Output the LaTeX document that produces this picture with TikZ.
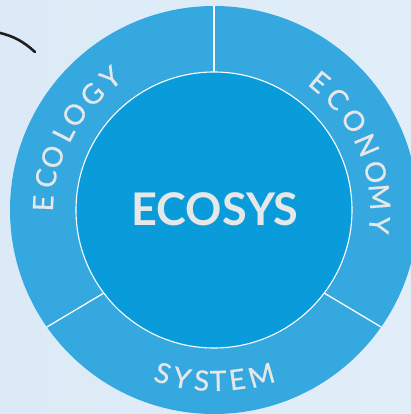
\documentclass[tikz,border=0pt]{standalone}
\usepackage{fontspec}
\setmainfont{Lato}
\newfontfamily\arcfam{Lato}[FakeBold=0.7]
\usepackage{xcolor}
\usepackage{tikz}

\definecolor{bgleft}{HTML}{DCEAF7}
\definecolor{bgmid}{HTML}{F0F6FC}
\definecolor{bgright}{HTML}{E1EEF9}
\definecolor{ringblue}{HTML}{35A8E0}
\definecolor{coreblue}{HTML}{0A9CDA}
\definecolor{txtgray}{HTML}{E6E7E8}

\newcommand{\arcfont}{\arcfam\fontsize{28}{28}\selectfont}
\newcommand{\titlefont}{\fontsize{45}{45}\selectfont\bfseries}

\begin{document}
\begin{tikzpicture}[x=1pt,y=1pt]
  \tikzstyle{ltr}=[text=txtgray,font=\arcfont,inner sep=0pt]
  \tikzstyle{sep}=[white,line width=1.3pt]

  % Frame and background
  \useasboundingbox (-214,-204) rectangle (197,210);
  \clip (-214,-204) rectangle (197,210);
  \shade[left color=bgleft,middle color=bgmid,right color=bgright] (-214,-204) rectangle (197,210);

  % Stroke at the top left
  \draw[black!88,line width=2.6pt,line cap=round] (-216,177.5) .. controls (-200,174) and (-190,168) .. (-179,158);

  % Ring and core
  \fill[ringblue] (0,0) circle (204);
  \draw[sep] (90:138) -- (90:204);
  \draw[sep] (217:138) -- (215:204);
  \draw[sep] (-37:138) -- (-35:204);
  \fill[coreblue,draw=white,line width=1.1pt] (0,0) circle (138);

  % Centre title
  \node[text=txtgray,font=\titlefont,inner sep=0pt] (title) at (1,1) {ECOSYS};

  % Ecology
  \node[ltr,rotate=87.7] (eco1) at (177.7:171) {E};
  \node[ltr,rotate=79.3] (eco2) at (169.3:171) {C};
  \node[ltr,rotate=71.8] (eco3) at (161.8:170) {O};
  \node[ltr,rotate=63] (eco4) at (153:169) {L};
  \node[ltr,rotate=55.6] (eco5) at (145.6:169) {O};
  \node[ltr,rotate=46.5] (eco6) at (136.5:168) {G};
  \node[ltr,rotate=38] (eco7) at (128:168) {Y};

  % Economy
  \node[ltr,rotate=-39.5] (eny1) at (50.5:166) {E};
  \node[ltr,rotate=-48] (eny2) at (42:166) {C};
  \node[ltr,rotate=-57.5] (eny3) at (32.5:166) {O};
  \node[ltr,rotate=-67] (eny4) at (23:166) {N};
  \node[ltr,rotate=-76.8] (eny5) at (13.2:166) {O};
  \node[ltr,rotate=-85.5] (eny6) at (4.5:166) {M};
  \node[ltr,rotate=-95.2] (eny7) at (-5.2:166) {Y};

  % System
  \node[ltr,rotate=-17.4] (sys1) at (-107.4:171) {S};
  \node[ltr,rotate=-10.8] (sys2) at (-100.8:171) {Y};
  \node[ltr,rotate=-4.1] (sys3) at (-94.1:171) {S};
  \node[ltr,rotate=1.4] (sys4) at (-88.6:171) {T};
  \node[ltr,rotate=7.8] (sys5) at (-82.2:171) {E};
  \node[ltr,rotate=16] (sys6) at (-74:172) {M};
\end{tikzpicture}
\end{document}
